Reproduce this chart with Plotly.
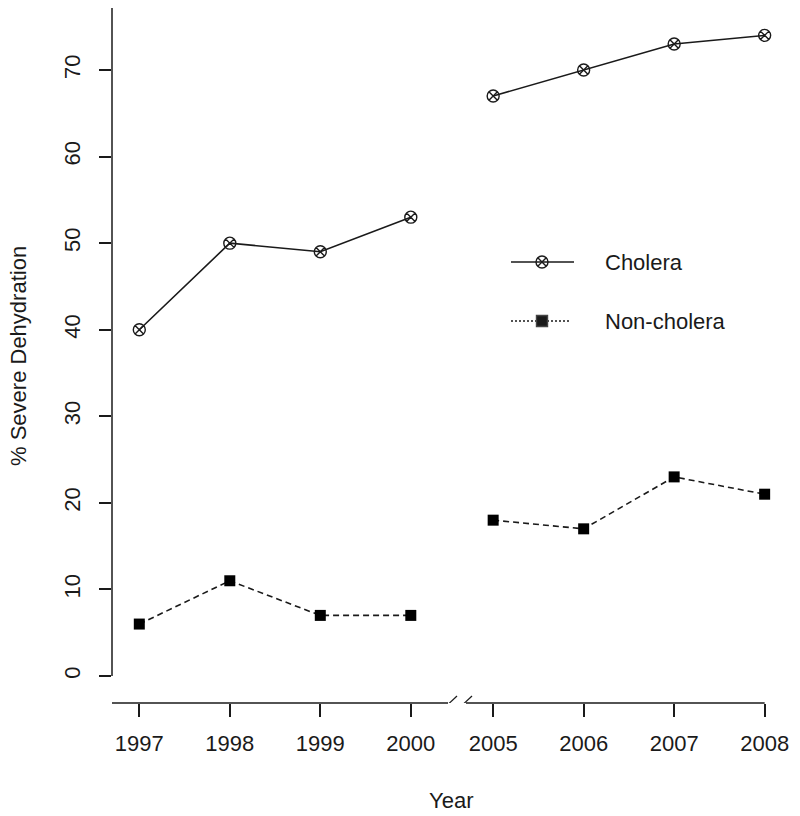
import plotly.graph_objects as go

years = ["1997", "1998", "1999", "2000", "2005", "2006", "2007", "2008"]
cholera = [40, 50, 49, 53, 67, 70, 73, 74]
non_cholera = [6, 11, 7, 7, 18, 17, 23, 21]
y_ticks = [0, 10, 20, 30, 40, 50, 60, 70]

# layout geometry (pixels in the 800x816 page)
W, H = 800, 816
L, R, T, B = 112, 780, 8, 703
X0PX, XSTEP = 139.3, 90.5          # first tick, spacing
BREAK_AT = 4                       # index of first year after the axis break
BREAK_SHIFT = -0.09                # years after the break sit slightly closer
Y0PX, YPER = 676, (676 - 70) / 70  # y=0 pixel, px per unit

xpos = [i + (BREAK_SHIFT if i >= BREAK_AT else 0) for i in range(len(years))]
xr = [(L - X0PX) / XSTEP, (R - X0PX) / XSTEP]
yr = [(Y0PX - B) / YPER, (Y0PX - T) / YPER]


def with_gap(vals):
    """Insert a None at the axis break so the line is not drawn across it."""
    return list(vals[:BREAK_AT]) + [None] + list(vals[BREAK_AT:])


def px2x(px):
    return (px - X0PX) / XSTEP


def py2y(py):
    return (Y0PX - py) / YPER


def ppx(px):
    return (px - L) / (R - L)


def ppy(py):
    return (B - py) / (B - T)


FONT = "Liberation Sans, Arial, sans-serif"
INK = "#1a1a1a"
FS = 22

xg = with_gap(xpos)
fig = go.Figure()
fig.add_trace(go.Scatter(
    x=xg, y=with_gap(cholera), mode="lines+markers", name="Cholera",
    connectgaps=False,
    line=dict(color=INK, width=1.6),
    marker=dict(symbol="circle-x-open", size=12, color=INK, line=dict(width=1.4)),
    showlegend=False))
fig.add_trace(go.Scatter(
    x=xg, y=with_gap(non_cholera), mode="lines+markers", name="Non-cholera",
    connectgaps=False,
    line=dict(color=INK, width=1.6, dash="6px,4px"),
    marker=dict(symbol="square", size=11, color="black"),
    showlegend=False))

# manual legend on an overlay axis in pixel units
leg = [("Cholera", 262, "solid", "circle-x-open", 12, 574),
       ("Non-cholera", 321, "2px,2px", "square", 11, 570)]
for name, py, dash, sym, size, xend in leg:
    fig.add_trace(go.Scatter(
        x=[511, xend], y=[py, py], mode="lines", xaxis="x2", yaxis="y2",
        line=dict(color=INK, width=1.4, dash=dash), showlegend=False, hoverinfo="skip"))
    fig.add_trace(go.Scatter(
        x=[542], y=[py], mode="markers", xaxis="x2", yaxis="y2",
        marker=dict(symbol=sym, size=size, color=INK, line=dict(width=1.4)),
        showlegend=False, hoverinfo="skip"))
    fig.add_annotation(x=603, y=py, xref="x2", yref="y2", text=name, showarrow=False,
                       xanchor="left", yanchor="middle",
                       font=dict(family=FONT, size=FS, color=INK))

shapes = []
# y axis line from 0 to top
shapes.append(dict(type="line", xref="paper", yref="y", x0=0, x1=0, y0=0, y1=yr[1],
                   line=dict(color=INK, width=1.5)))
# x axis line with break
shapes.append(dict(type="line", xref="x", yref="paper", x0=xr[0], x1=px2x(448), y0=0, y1=0,
                   line=dict(color=INK, width=1.5)))
shapes.append(dict(type="line", xref="x", yref="paper", x0=px2x(466), x1=xpos[-1], y0=0, y1=0,
                   line=dict(color=INK, width=1.5)))
for sx in (442, 457):
    shapes.append(dict(type="line", xref="x", yref="y", x0=px2x(sx), x1=px2x(sx + 15),
                       y0=py2y(710), y1=py2y(696), line=dict(color=INK, width=1.2)))

fig.update_layout(
    width=W, height=H,
    margin=dict(l=L, r=W - R, t=T, b=H - B),
    paper_bgcolor="white", plot_bgcolor="white",
    font=dict(family=FONT, size=FS, color=INK),
    showlegend=False,
    shapes=shapes,
    xaxis=dict(range=xr, tickmode="array", tickvals=xpos, ticktext=years,
               showgrid=False, zeroline=False, showline=False,
               ticks="outside", ticklen=13, tickwidth=1.5, tickcolor=INK,
               ticklabelstandoff=8,
               tickfont=dict(size=FS), fixedrange=True),
    yaxis=dict(range=yr, tickmode="array", tickvals=y_ticks,
               ticktext=[str(v) for v in y_ticks], tickangle=-90,
               showgrid=False, zeroline=False, showline=False,
               ticks="outside", ticklen=12, tickwidth=1.5, tickcolor=INK,
               ticklabelstandoff=10,
               tickfont=dict(size=FS), fixedrange=True),
    xaxis2=dict(overlaying="x", range=[L, R], visible=False, fixedrange=True),
    yaxis2=dict(overlaying="y", range=[B, T], visible=False, fixedrange=True),
)

fig.add_annotation(x=ppx(451), y=ppy(800), xref="paper", yref="paper", text="Year",
                   showarrow=False, xanchor="center", yanchor="middle",
                   font=dict(family=FONT, size=FS, color=INK))
fig.add_annotation(x=ppx(19), y=ppy(356), xref="paper", yref="paper",
                   text="% Severe Dehydration", textangle=-90,
                   showarrow=False, xanchor="center", yanchor="middle",
                   font=dict(family=FONT, size=FS, color=INK))

fig.write_html("out.html", config={"displayModeBar": False},
               post_script="document.body.style.margin='0';document.body.style.padding='0';")
